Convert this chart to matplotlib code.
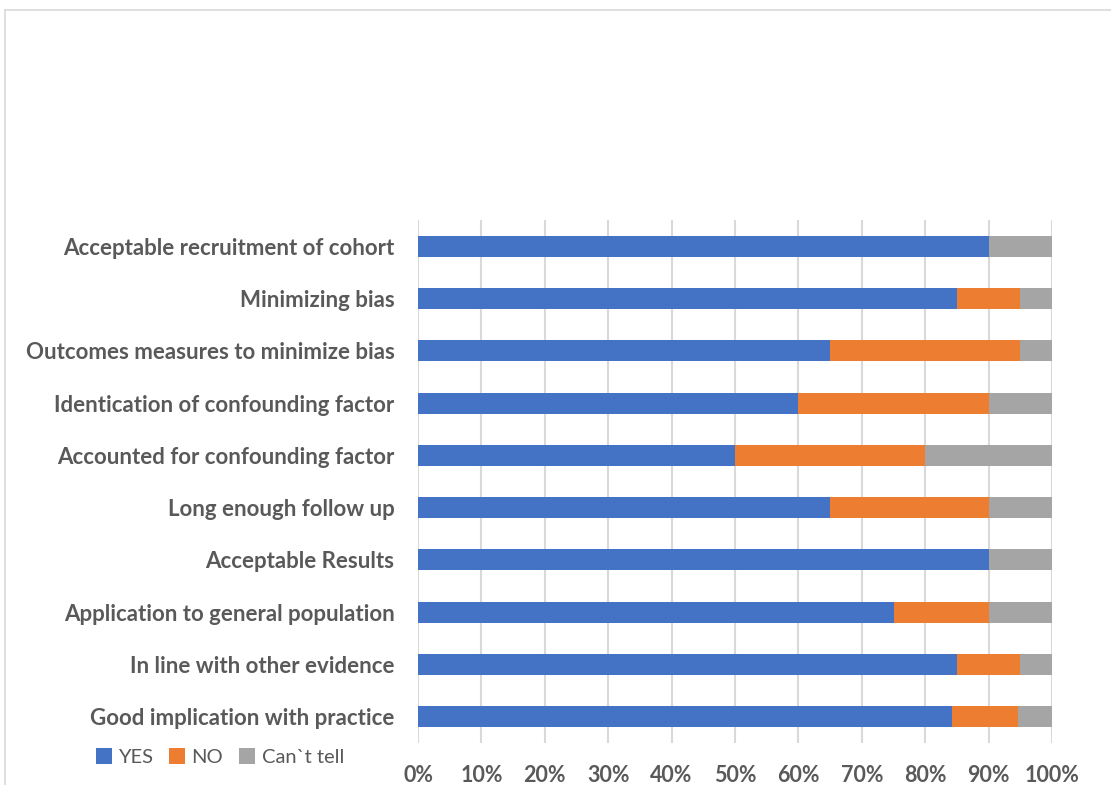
import matplotlib.pyplot as plt
from matplotlib.lines import Line2D
import numpy as np

categories = [
    "Acceptable recruitment of cohort",
    "Minimizing bias",
    "Outcomes measures to minimize bias",
    "Identication of confounding factor",
    "Accounted for confounding factor",
    "Long enough follow up",
    "Acceptable Results",
    "Application to general population",
    "In line with other evidence",
    "Good implication with practice",
]
yes = [90, 85, 65, 60, 50, 65, 90, 75, 85, 84.2]
no = [0, 10, 30, 30, 30, 25, 0, 15, 10, 10.5]
cant_tell = [10, 5, 5, 10, 20, 10, 10, 10, 5, 5.3]

series = [("YES", yes, "#4472C4"), ("NO", no, "#ED7D31"), ("Can`t tell", cant_tell, "#A5A5A5")]

plt.rcParams["font.family"] = ["Lato", "DejaVu Sans"]
text_col = "#595959"

fig = plt.figure(figsize=(11.11, 7.85), dpi=100)
W, H = 1111, 785
ax = fig.add_axes([418 / W, 1 - 743 / H, (1052 - 418) / W, (743 - 220) / H])

y = np.arange(len(categories))[::-1]
left = np.zeros(len(categories))
for name, vals, col in series:
    vals = np.array(vals)
    ax.barh(y, vals, left=left, height=0.4, color=col, label=name, zorder=3)
    left += vals

ax.set_xlim(0, 100)
ax.set_ylim(-0.5, len(categories) - 0.5)
ax.set_xticks(np.arange(0, 101, 10))
ax.set_xticklabels([f"{v}%" for v in range(0, 101, 10)], fontsize=15.5,
                   fontweight="bold", color=text_col)
ax.set_yticks(y)
ax.set_yticklabels(categories, fontsize=16, fontweight="bold", color=text_col)
ax.tick_params(axis="both", length=0)
ax.tick_params(axis="x", pad=16)
ax.tick_params(axis="y", pad=17)
ax.grid(axis="x", color="#D9D9D9", linewidth=1.5, zorder=0)
for s in ax.spines.values():
    s.set_visible(False)

ax.legend(loc="center", bbox_to_anchor=(220 / W, 1 - 757 / H), bbox_transform=fig.transFigure,
          ncol=3, frameon=False, fontsize=14.5, labelcolor=text_col, handlelength=0.8,
          handleheight=0.8, handletextpad=0.3, columnspacing=0.8)

fig.add_artist(Line2D([5 / W, 5 / W], [0, 1 - 10 / H], transform=fig.transFigure,
                      color="#D9D9D9", linewidth=1.2))
fig.add_artist(Line2D([5 / W, 1], [1 - 10 / H, 1 - 10 / H], transform=fig.transFigure,
                      color="#D9D9D9", linewidth=1.2))

fig.savefig("out.png", dpi=100, facecolor="white")
